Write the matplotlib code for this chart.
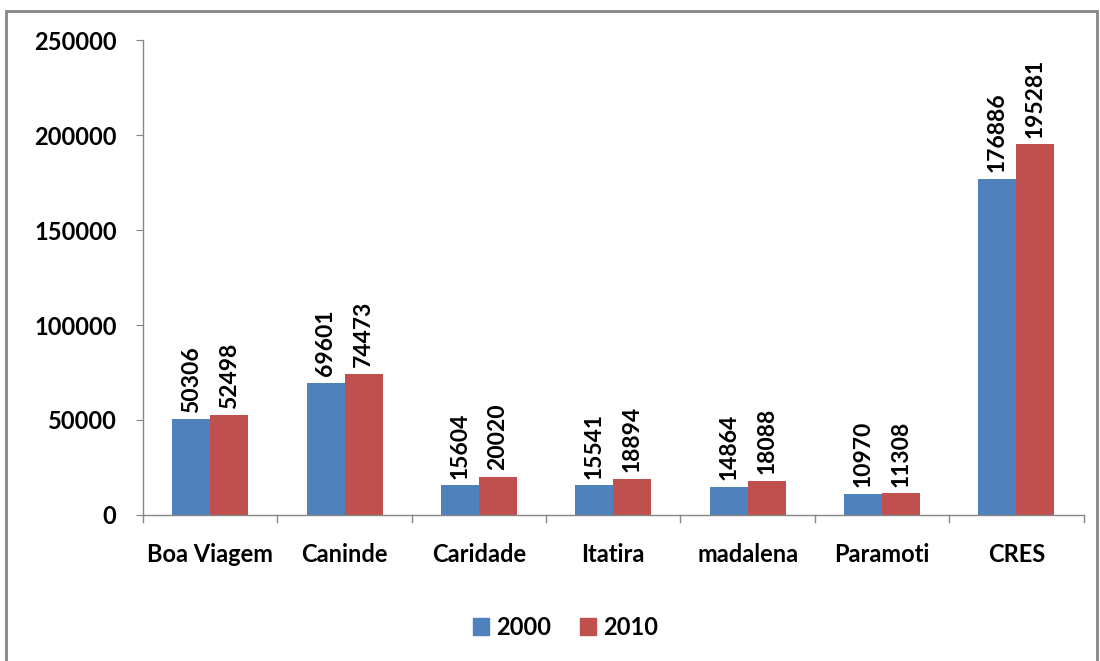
import matplotlib.pyplot as plt
import matplotlib.patches as mpatches
import numpy as np

plt.rcParams['font.family'] = ['Lato', 'DejaVu Sans']

municipios = ['Boa Viagem', 'Caninde', 'Caridade', 'Itatira', 'madalena', 'Paramoti', 'CRES']
pop_2000 = [50306, 69601, 15604, 15541, 14864, 10970, 176886]
pop_2010 = [52498, 74473, 20020, 18894, 18088, 11308, 195281]
anos = ['2000', '2010']

cor_2000 = '#4f81bd'
cor_2010 = '#c0504d'
cinza = '#868686'

fig = plt.figure(figsize=(11, 6.61), dpi=100)
ax = fig.add_axes([0.13, 0.221, 0.855, 0.718])

x = np.arange(len(municipios))
w = 0.283
b1 = ax.bar(x - w / 2, pop_2000, w, color=cor_2000, label=anos[0])
b2 = ax.bar(x + w / 2, pop_2010, w, color=cor_2010, label=anos[1])

for bars, vals in ((b1, pop_2000), (b2, pop_2010)):
    for r, v in zip(bars, vals):
        ax.text(r.get_x() + r.get_width() / 2, v + 3500, str(v), rotation=90,
                ha='center', va='bottom', fontsize=16.5, fontweight='bold')

ax.set_xlim(-0.5, len(municipios) - 0.5)
ax.set_ylim(0, 250000)
ax.set_yticks(np.arange(0, 250001, 50000))
ax.set_yticklabels([str(v) for v in range(0, 250001, 50000)], fontsize=17, fontweight='bold')

# category labels without ticks, ticks on the group boundaries
ax.set_xticks(x)
ax.set_xticklabels(municipios, fontsize=17, fontweight='bold')
ax.tick_params(axis='x', length=0, pad=20)
for xb in np.arange(-0.5, len(municipios), 1.0):
    ax.plot([xb, xb], [0, -3500], color=cinza, lw=1, clip_on=False)
ax.tick_params(axis='y', length=5, color=cinza, direction='out', pad=14)

for s in ('top', 'right'):
    ax.spines[s].set_visible(False)
for s in ('left', 'bottom'):
    ax.spines[s].set_color(cinza)
    ax.spines[s].set_linewidth(1)

handles = [mpatches.Patch(color=cor_2000, label=anos[0]),
           mpatches.Patch(color=cor_2010, label=anos[1])]
fig.legend(handles=handles, loc='center', bbox_to_anchor=(0.514, 0.051), ncol=2,
           frameon=False, prop={'size': 17, 'weight': 'bold'},
           handlelength=0.7, handleheight=0.7, handletextpad=0.3, columnspacing=1.2)

# outer chart border
fig.patches.append(mpatches.Rectangle((0.005, -0.05), 0.992, 1.034, transform=fig.transFigure,
                                      fill=False, edgecolor=cinza, lw=2))

fig.savefig('out.png', dpi=100)
